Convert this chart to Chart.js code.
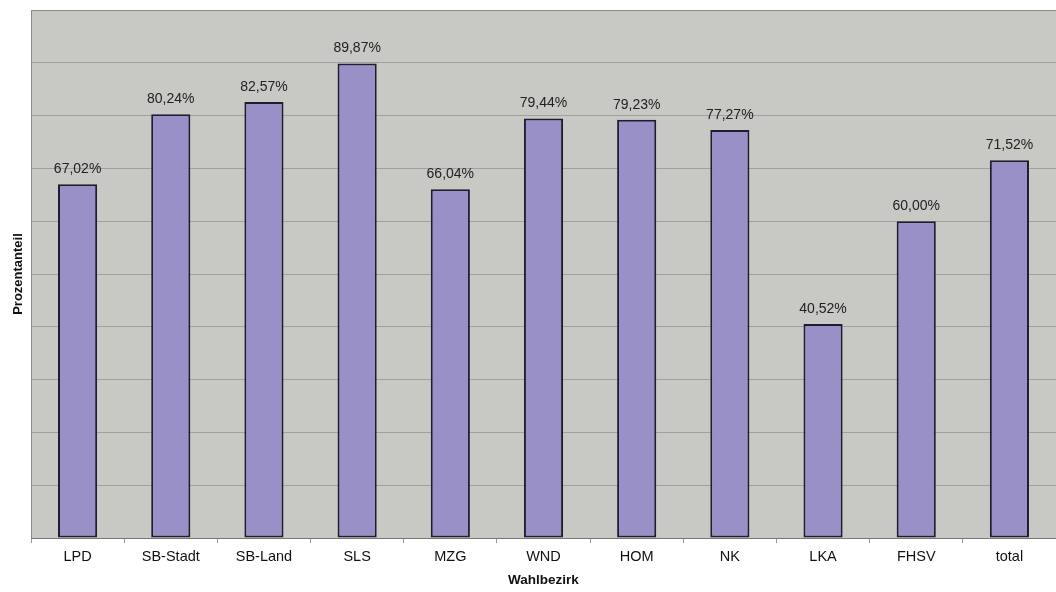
<!DOCTYPE html>
<html>
<head>
<meta charset="utf-8">
<script src="https://cdn.jsdelivr.net/npm/chart.js@4/dist/chart.umd.min.js"></script>
<style>
  html, body { margin: 0; padding: 0; background: #fff; }
  #wrap { width: 1056px; height: 592px; }
</style>
</head>
<body>
<div id="wrap"><canvas id="chart" width="1056" height="592"></canvas></div>
<script>
const bezirke = ['LPD', 'SB-Stadt', 'SB-Land', 'SLS', 'MZG', 'WND', 'HOM', 'NK', 'LKA', 'FHSV', 'total'];
const anteile = [67.02, 80.24, 82.57, 89.87, 66.04, 79.44, 79.23, 77.27, 40.52, 60.00, 71.52];

// grauer Hintergrund der Zeichenfläche + Rahmen oben
const plotBg = {
    id: 'plotBg',
    beforeDraw(chart) {
        const { ctx, chartArea: a } = chart;
        ctx.save();
        ctx.fillStyle = '#c8c8c4';
        ctx.fillRect(a.left, a.top, a.right - a.left, a.bottom - a.top);
        ctx.restore();
    },
    afterDraw(chart) {
        const { ctx, chartArea: a } = chart;
        ctx.save();
        ctx.strokeStyle = '#8a8a8a';
        ctx.lineWidth = 1;
        ctx.beginPath();
        ctx.moveTo(a.left, a.top + 0.5);
        ctx.lineTo(a.right, a.top + 0.5);
        ctx.stroke();
        ctx.restore();
    }
};

// Werte über den Balken
const werteLabels = {
    id: 'werteLabels',
    afterDatasetsDraw(chart) {
        const { ctx } = chart;
        const meta = chart.getDatasetMeta(0);
        ctx.save();
        ctx.font = '14px "Liberation Sans", Arial, sans-serif';
        ctx.fillStyle = '#222';
        ctx.textAlign = 'center';
        ctx.textBaseline = 'bottom';
        meta.data.forEach((bar, i) => {
            const txt = anteile[i].toFixed(2).replace('.', ',') + '%';
            ctx.fillText(txt, bar.x, bar.y - 8);
        });
        ctx.restore();
    }
};

new Chart(document.getElementById('chart'), {
    type: 'bar',
    data: {
        labels: bezirke,
        datasets: [{
            data: anteile,
            backgroundColor: '#9a90c8',
            borderColor: '#1e1c30',
            borderWidth: 2,
            borderSkipped: false,
            categoryPercentage: 1,
            barPercentage: 0.42
        }]
    },
    options: {
        responsive: false,
        animation: false,
        layout: { padding: { top: 10, right: 0, left: 0, bottom: 0 } },
        plugins: {
            legend: { display: false },
            tooltip: { enabled: false }
        },
        scales: {
            x: {
                grid: {
                    offset: true,
                    drawOnChartArea: false,
                    color: '#999',
                    tickLength: 5
                },
                border: { color: '#777' },
                ticks: {
                    color: '#111',
                    font: { family: '"Liberation Sans", Arial, sans-serif', size: 14.5 },
                    padding: 5
                },
                title: {
                    display: true,
                    text: 'Wahlbezirk',
                    color: '#111',
                    font: { family: '"Liberation Sans", Arial, sans-serif', size: 13.5, weight: 'bold' },
                    padding: { top: 9 }
                },
                afterFit(axis) { axis.height = 54; }
            },
            y: {
                min: 0,
                max: 100,
                ticks: { stepSize: 10, display: false },
                grid: { color: '#a0a0a0', lineWidth: 1, drawTicks: false },
                border: { color: '#8a8a8a' },
                title: {
                    display: true,
                    text: 'Prozentanteil',
                    color: '#111',
                    font: { family: '"Liberation Sans", Arial, sans-serif', size: 13, weight: 'bold' },
                    padding: { top: 11, bottom: 4 }
                },
                afterFit(axis) { axis.width = 31; }
            }
        }
    },
    plugins: [plotBg, werteLabels]
});
</script>
</body>
</html>
